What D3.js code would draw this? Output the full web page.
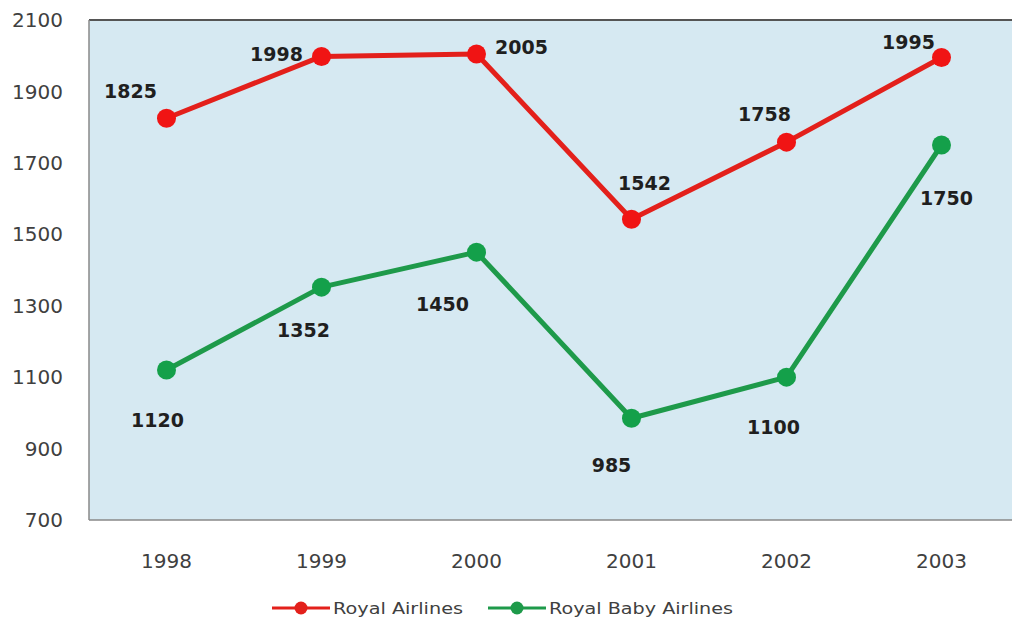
<!DOCTYPE html>
<html>
<head>
<meta charset="utf-8">
<script src="https://cdn.jsdelivr.net/npm/d3@7"></script>
<style>
  body { margin: 0; background: #fff; }
  text { font-family: "DejaVu Sans", sans-serif; }
</style>
</head>
<body>
<div id="chart"></div>
<script>
// data
var years = ["1998", "1999", "2000", "2001", "2002", "2003"];
var royal = [1825, 1998, 2005, 1542, 1758, 1995];
var baby = [1120, 1352, 1450, 985, 1100, 1750];
var yTicks = [700, 900, 1100, 1300, 1500, 1700, 1900, 2100];
var seriesNames = ["Royal Airlines", "Royal Baby Airlines"];

// label offsets (relative to point)
var royalOffsets = [[-36, -27], [-45, -2], [45, -7], [13, -36], [-22, -28], [-33, -15]];
var babyOffsets = [[-9, 50], [-18, 43], [-34, 52], [-20, 47], [-13, 50], [5, 53]];

var W = 1012, H = 624;
var margin = {top: 20, right: -7, bottom: 104, left: 89};
var width = W - margin.left - margin.right,
    height = H - margin.top - margin.bottom;

var svg = d3.select("#chart").append("svg")
    .attr("width", W).attr("height", H);
var g = svg.append("g")
    .attr("transform", "translate(" + margin.left + "," + margin.top + ")");

var x = d3.scalePoint().domain(years).range([0, width]).padding(0.5);
var y = d3.scaleLinear().domain([700, 2100]).range([height, 0]);

g.append("rect")
    .attr("width", width).attr("height", height)
    .attr("fill", "#d6e9f2");

// borders
g.append("line").attr("x1", 0).attr("x2", width).attr("y1", 0).attr("y2", 0)
    .attr("stroke", "#555").attr("stroke-width", 2);
g.append("line").attr("x1", 0).attr("x2", 0).attr("y1", 0).attr("y2", height)
    .attr("stroke", "#888").attr("stroke-width", 1.5);
g.append("line").attr("x1", 0).attr("x2", width).attr("y1", height).attr("y2", height)
    .attr("stroke", "#888").attr("stroke-width", 1.5);

// axis labels
g.selectAll(".ytick").data(yTicks).enter().append("text")
    .attr("x", -26).attr("y", function(d) { return y(d); })
    .attr("dy", "0.36em").attr("text-anchor", "end")
    .attr("font-size", 20).attr("fill", "#404040")
    .text(function(d) { return d; });

g.selectAll(".xtick").data(years).enter().append("text")
    .attr("x", function(d) { return x(d); }).attr("y", height + 41)
    .attr("dy", "0.36em").attr("text-anchor", "middle")
    .attr("font-size", 20).attr("fill", "#404040")
    .text(function(d) { return d; });

function drawSeries(vals, offsets, color, markColor) {
  var pts = vals.map(function(v, i) { return [years[i], v]; });
  g.append("path").datum(pts)
    .attr("fill", "none").attr("stroke", color).attr("stroke-width", 5)
    .attr("stroke-linejoin", "round")
    .attr("d", d3.line().x(function(d) { return x(d[0]); }).y(function(d) { return y(d[1]); }));
  g.selectAll(null).data(pts).enter().append("circle")
    .attr("cx", function(d) { return x(d[0]); })
    .attr("cy", function(d) { return y(d[1]); })
    .attr("r", 9.5).attr("fill", markColor);
  g.selectAll(null).data(pts).enter().append("text")
    .attr("x", function(d, i) { return x(d[0]) + offsets[i][0]; })
    .attr("y", function(d, i) { return y(d[1]) + offsets[i][1]; })
    .attr("dy", "0.36em").attr("text-anchor", "middle")
    .attr("font-size", 19).attr("font-weight", "bold").attr("fill", "#1f1f1f")
    .text(function(d) { return d[1]; });
}

drawSeries(royal, royalOffsets, "#e3201b", "#f01414");
drawSeries(baby, babyOffsets, "#1e9a4a", "#14a04a");

// legend
var legend = svg.append("g").attr("transform", "translate(0,608)");
var legColors = ["#e3201b", "#1e9a4a"];
var legX = [272, 488];
var legLen = [130, 184];
seriesNames.forEach(function(name, i) {
  var lg = legend.append("g").attr("transform", "translate(" + legX[i] + ",0)");
  lg.append("line").attr("x1", 0).attr("x2", 58).attr("stroke", legColors[i]).attr("stroke-width", 3);
  lg.append("circle").attr("cx", 29).attr("r", 6.5).attr("fill", legColors[i]);
  lg.append("text").attr("x", 61).attr("dy", "0.36em")
    .attr("font-size", 16).attr("fill", "#404040")
    .attr("textLength", legLen[i]).attr("lengthAdjust", "spacingAndGlyphs")
    .text(name);
});
</script>
</body>
</html>
